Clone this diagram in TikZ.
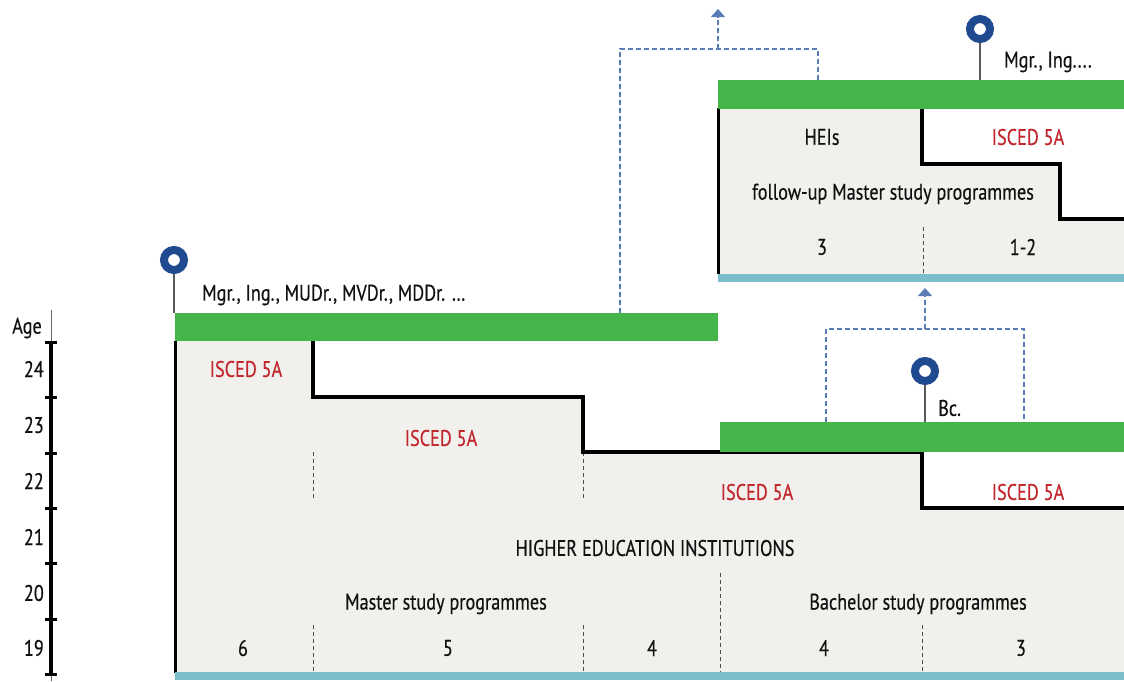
\documentclass[tikz,border=0pt]{standalone}
\usepackage{fontspec}
\setmainfont{PT Sans}[FakeStretch=0.81,FakeBold=0.4]
\usetikzlibrary{arrows.meta}
\definecolor{grn}{HTML}{45B54A}
\definecolor{grayfill}{HTML}{F1F0ED}
\definecolor{bluebar}{HTML}{7BBDCB}
\definecolor{iscedred}{HTML}{C1272D}
\definecolor{pinblue}{HTML}{1F4A8F}
\definecolor{dashblue}{HTML}{5B7DB5}
\definecolor{txt}{HTML}{111111}
\tikzset{
  txtstyle/.style={font=\fontsize{22.5}{26}\selectfont, text=txt, inner sep=0pt},
  isced/.style={txtstyle, text=iscedred},
  stepline/.style={line width=3.1pt, black},
  edgeline/.style={line width=3pt, black},
  greenbar/.style={fill=grn, draw=none},
  bluebarstyle/.style={fill=bluebar, draw=none},
  sepdash/.style={line width=1pt, dash pattern=on 4pt off 3pt, black!70},
  pincircle/.style={circle, draw=pinblue, line width=8pt, fill=white, minimum size=20pt, inner sep=0pt},
  stem/.style={line width=1.2pt, black!65},
  conn/.style={line width=1.1pt, dashblue, dash pattern=on 5pt off 3pt},
  connarrow/.style={conn, -{Triangle[width=14pt,length=8pt]}},
  ticks/.style={line width=3pt, black},
}
\begin{document}
\begin{tikzpicture}[x=1pt,y=-1pt]
\useasboundingbox (0,0) rectangle (1124,681);
% gray fills
\fill[grayfill] (175,341) -- (313,341) -- (313,397) -- (583,397) -- (583,452) -- (922,452) -- (922,508) -- (1124,508) -- (1124,673) -- (175,673) -- cycle;
\fill[grayfill] (718,108) -- (922,108) -- (922,164) -- (1060,164) -- (1060,219) -- (1124,219) -- (1124,274) -- (718,274) -- cycle;
% separator dashes
\draw[sepdash] (313,452) -- (313,500);
\draw[sepdash] (583,452) -- (583,500);
\draw[sepdash] (313,625) -- (313,673);
\draw[sepdash] (583,625) -- (583,673);
\draw[sepdash] (720,573) -- (720,673);
\draw[sepdash] (922,625) -- (922,673);
\draw[sepdash] (923,227) -- (923,274);
% step lines
\draw[stepline] (313,341) -- (313,397) -- (583,397) -- (583,452) -- (922,452) -- (922,508) -- (1124,508);
\draw[stepline] (922,108) -- (922,164) -- (1060,164) -- (1060,219) -- (1124,219);
\draw[edgeline] (175,341) -- (175,673);
\draw[edgeline] (718,108) -- (718,274);
% bars
\fill[greenbar] (175,313) rectangle (718,341);
\fill[greenbar] (720,422) rectangle (1124,452);
\fill[greenbar] (718,80) rectangle (1124,109);
\fill[bluebarstyle] (175,672) rectangle (1124,680);
\fill[bluebarstyle] (718,274) rectangle (1124,282);
% age axis
\draw[line width=0.8pt, black!60] (51,310) -- (51,341);
\draw[line width=0.8pt, black!60] (51,674) -- (51,681);
\draw[line width=4pt, black] (51,341) -- (51,674);
\foreach \yy in {342,397,453,508,563,619,674} {
  \draw[ticks] (45,\yy) -- (57,\yy);
}
\node[txtstyle] (age) at (27,328) {Age};
\node[txtstyle, anchor=east] (a24) at (44,369) {24};
\node[txtstyle, anchor=east] (a23) at (44,425) {23};
\node[txtstyle, anchor=east] (a22) at (44,481) {22};
\node[txtstyle, anchor=east] (a21) at (44,537) {21};
\node[txtstyle, anchor=east] (a20) at (44,593) {20};
\node[txtstyle, anchor=east] (a19) at (44,648) {19};
% texts
\node[isced] (i1) at (246,369) {ISCED 5A};
\node[isced] (i2) at (441,438) {ISCED 5A};
\node[isced] (i3) at (757,492) {ISCED 5A};
\node[isced] (i4) at (1028,492) {ISCED 5A};
\node[isced] (i5) at (1028,137) {ISCED 5A};
\node[txtstyle] (heis) at (822,137) {HEIs};
\node[txtstyle] (fu) at (893,194) {follow-up Master study programmes};
\node[txtstyle] (t3) at (822,247) {3};
\node[txtstyle] (t12) at (1023,247) {1-2};
\node[txtstyle] (hei) at (655,548) {HIGHER EDUCATION INSTITUTIONS};
\node[txtstyle] (msp) at (446,604) {Master study programmes};
\node[txtstyle] (bsp) at (918,604) {Bachelor study programmes};
\node[txtstyle] (n6) at (243,648) {6};
\node[txtstyle] (n5) at (448,648) {5};
\node[txtstyle] (n4a) at (652,648) {4};
\node[txtstyle] (n4b) at (824,648) {4};
\node[txtstyle] (n3) at (1021,648) {3};
% pins
\coordinate (b1) at (174,313);
\coordinate (b2) at (980,80);
\coordinate (b3) at (925,422);
\node[pincircle] (p1) at (174,260) {};
\node[pincircle] (p2) at (980,29) {};
\node[pincircle] (p3) at (925,371) {};
\draw[stem] (p1.south) -- (b1);
\draw[stem] (p2.south) -- (b2);
\draw[stem] (p3.south) -- (b3);
\node[txtstyle, anchor=west] (deg1) at (202,295) {Mgr., Ing., MUDr., MVDr., MDDr. \dots};
\node[txtstyle, anchor=west] (deg2) at (1004,62) {Mgr., Ing....};
\node[txtstyle, anchor=west] (deg3) at (938,408) {Bc.};
% connectors
\coordinate (c1a) at (620,313);
\coordinate (c1b) at (818,80);
\coordinate (c1m) at (718,49);
\coordinate (c1t) at (718,9);
\draw[conn] (c1a) |- (c1m) -| (c1b);
\draw[connarrow] (c1m) -- (c1t);
\coordinate (c2a) at (826,422);
\coordinate (c2b) at (1024,422);
\coordinate (c2m) at (925,329);
\coordinate (c2t) at (925,288);
\draw[conn] (c2a) |- (c2m) -| (c2b);
\draw[connarrow] (c2m) -- (c2t);
\end{tikzpicture}
\end{document}
